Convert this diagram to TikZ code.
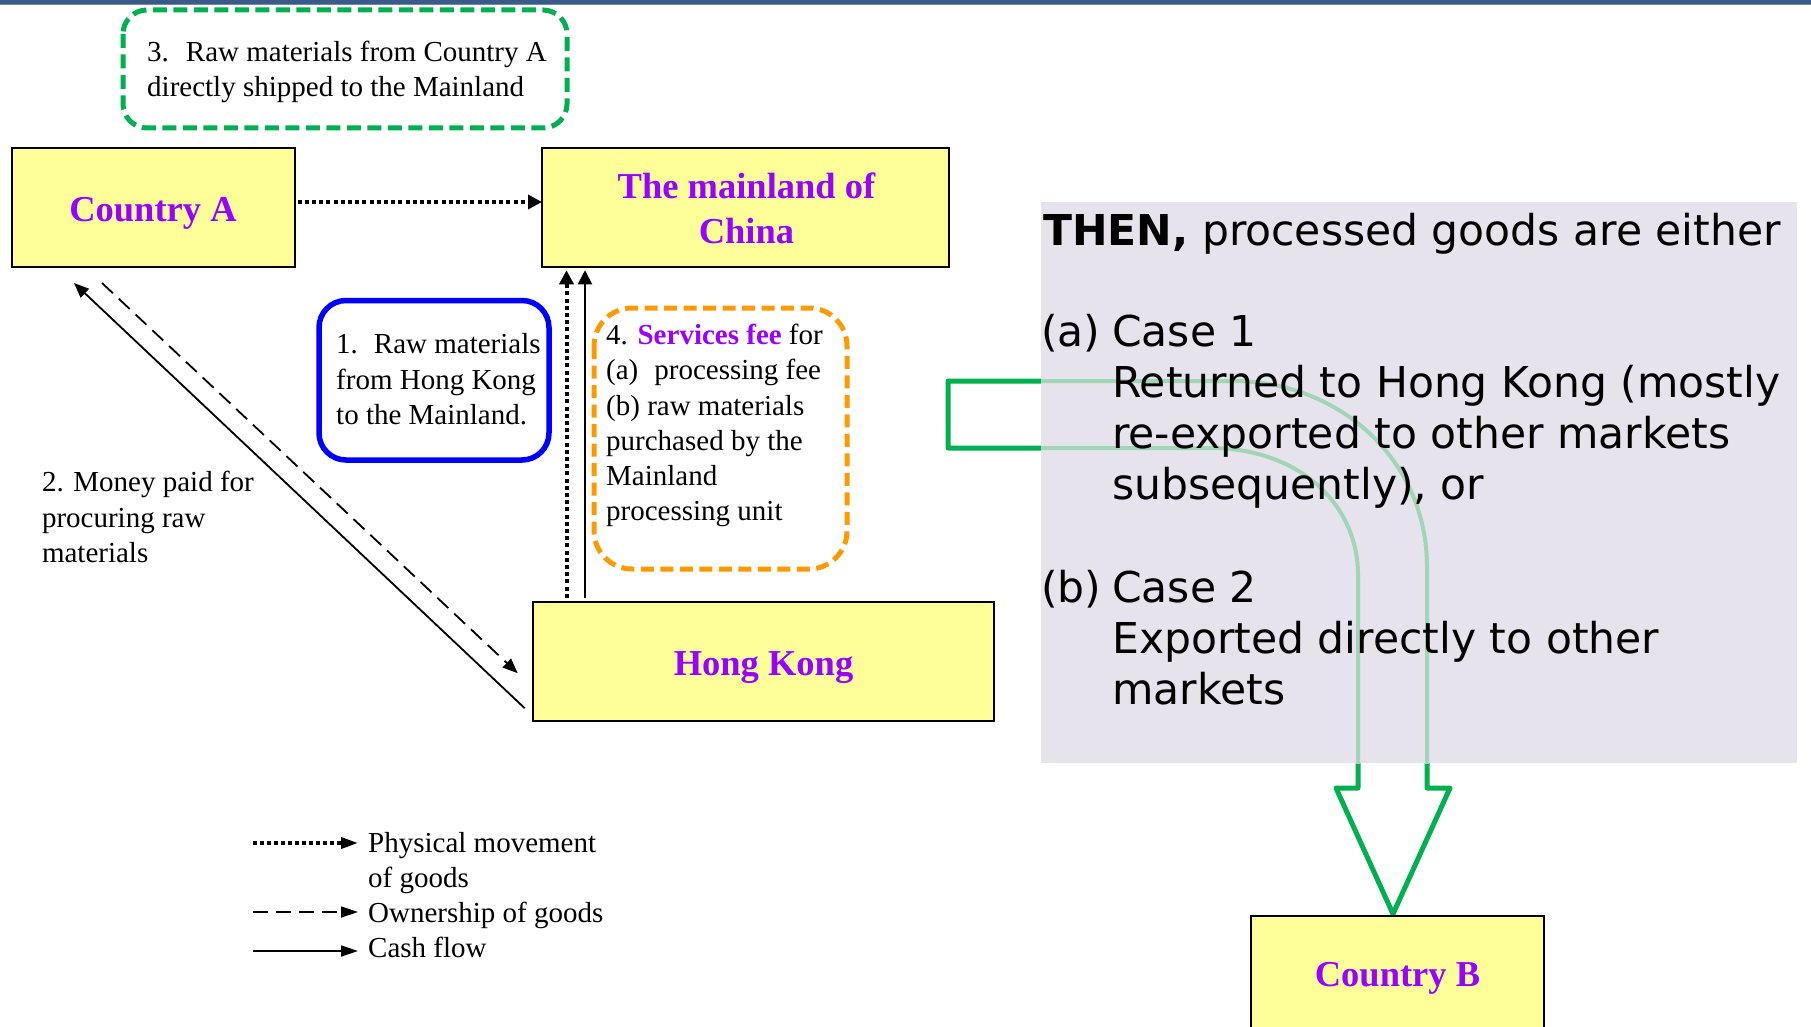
\documentclass[tikz,border=0pt]{standalone}
\usepackage{fontspec}
\setmainfont{Liberation Serif}
\newfontfamily\panelfont{DejaVu Sans}
\usetikzlibrary{arrows.meta}

\definecolor{boxyellow}{HTML}{FFFF99}
\definecolor{placepurple}{HTML}{9900FF}
\definecolor{notegreen}{HTML}{00B050}
\definecolor{ghostgreen}{RGB}{160,214,182}
\definecolor{noteblue}{HTML}{0000FF}
\definecolor{noteorange}{HTML}{FF9900}
\definecolor{barblue}{HTML}{3A5A88}
\definecolor{barlight}{HTML}{7088AE}
\definecolor{panelgrey}{RGB}{230,227,237}

\begin{document}
\begin{tikzpicture}[x=1pt, y=-1pt,
  place/.style={draw=black, line width=2pt, fill=boxyellow, inner sep=0pt, outer sep=0pt},
  placename/.style={font=\fontsize{36.5}{44.5}\selectfont\bfseries, text=placepurple, anchor=base, inner sep=0pt},
  note/.style={font=\fontsize{29}{35.5}\selectfont, anchor=base west, inner sep=0pt},
  panelline/.style={font=\panelfont\fontsize{42.5}{51}\selectfont, anchor=base west, inner sep=0pt},
  goods/.style={line width=4pt, dash pattern=on 4pt off 3.2pt},
  owner/.style={line width=1.8pt, dash pattern=on 15pt off 8pt},
  cash/.style={line width=1.8pt},
  headtip/.style={-{Triangle[length=14pt, width=14pt]}},
  keytip/.style={-{Triangle[length=17pt, width=11pt]}},
  bigarrow/.style={draw=notegreen, line width=5pt, line join=round},
]
\useasboundingbox (0,0) rectangle (1811,1027);

% title bar along the top edge
\fill[barblue] (0,0) rectangle (1811,4);
\fill[barlight] (0,4) rectangle (1811,5.5);

% outline of the block arrow: goods leaving the Mainland for Country B
\def\arrowoutline{(948,381) -- (1233,381)
  .. controls (1340,381) and (1427,460) .. (1427,567)
  -- (1427,788) -- (1450,788) -- (1393,914) -- (1336,788) -- (1358,788)
  -- (1358,575) .. controls (1358,505) and (1300,448) .. (1210,448)
  -- (948,448) -- cycle}
\draw[bigarrow] \arrowoutline;

% explanation panel laid over the arrow, which shows through faintly
\fill[panelgrey] (1041,202) rectangle (1797,763);
\begin{scope}
  \clip (1041,202) rectangle (1797,763);
  \draw[ghostgreen, line width=4pt, line join=round] \arrowoutline;
\end{scope}
\node[panelline] (then) at (1043,245) {\bfseries THEN,\mdseries{} processed goods are either};
\node[panelline] (casea) at (1041,346) {(a)};
\node[panelline] (caseat) at (1112,346) {Case 1};
\node[panelline] (caseal1) at (1112,397) {Returned to Hong Kong (mostly};
\node[panelline] (caseal2) at (1112,448) {re-exported to other markets};
\node[panelline] (caseal3) at (1112,499) {subsequently), or};
\node[panelline] (caseb) at (1041,602) {(b)};
\node[panelline] (casebt) at (1112,602) {Case 2};
\node[panelline] (casebl1) at (1112,653) {Exported directly to other};
\node[panelline] (casebl2) at (1112,704) {markets};

% places
\node[place, minimum width=283pt, minimum height=119pt] (ca) at (153,207.5) {};
\node[place, minimum width=407pt, minimum height=118.5pt] (ml) at (745.5,207.5) {};
\node[place, minimum width=461pt, minimum height=119pt] (hk) at (763.2,661.2) {};
\begin{scope}
  \clip (0,0) rectangle (1811,1027);
  \node[place, minimum width=293pt, minimum height=119pt] (cb) at (1397.5,975.5) {};
\end{scope}
\node[placename] (caname) at (153,221.7) {Country A};
\node[placename] (mlname1) at (746.5,199) {The mainland of};
\node[placename] (mlname2) at (746.5,243.5) {China};
\node[placename] (hkname) at (763.5,675) {Hong Kong};
\node[placename] (cbname) at (1397.5,986.7) {Country B};

% note 3
\draw[notegreen, line width=5pt, dash pattern=on 14pt off 6.5pt, rounded corners=24pt]
  (123,10) rectangle (567,128);
\node[note] (n3a) at (147,61.5) {3.\hspace{17pt}Raw materials from Country A};
\node[note] (n3b) at (147,97) {directly shipped to the Mainland};

% note 1
\draw[noteblue, line width=5.5pt, rounded corners=27pt] (319,300.5) rectangle (549,460);
\node[note] (n1a) at (336,353) {1.\hspace{16pt}Raw materials};
\node[note] (n1b) at (336,389) {from Hong Kong};
\node[note] (n1c) at (336,424) {to the Mainland.};

% note 4
\draw[noteorange, line width=5pt, dash pattern=on 13pt off 6.5pt, rounded corners=38pt]
  (594,308) rectangle (847,569);
\node[note] (n4a) at (606,344) {4. \textcolor{placepurple}{\bfseries Services fee} for};
\node[note] (n4b) at (606,379.5) {(a)\hspace{16pt}processing fee};
\node[note] (n4c) at (606,415) {(b) raw materials};
\node[note] (n4d) at (606,450.5) {purchased by the};
\node[note] (n4e) at (606,485.5) {Mainland};
\node[note] (n4f) at (606,520) {processing unit};

% note 2
\node[note] (n2a) at (41.8,491) {2. Money paid for};
\node[note] (n2b) at (41.8,527.5) {procuring raw};
\node[note] (n2c) at (41.8,562.5) {materials};

% flows between the places
\coordinate (vdot) at (566.5,0);
\coordinate (vcash) at (585,0);
\draw[goods, headtip] ([xshift=3pt,yshift=5.5pt]ca.east) -- ([yshift=5.5pt]ml.west);
\draw[goods, headtip, shorten <=4pt, shorten >=3.5pt] (hk.north -| vdot) -- (ml.south -| vdot);
\draw[cash, headtip, shorten <=3.5pt, shorten >=3.5pt] (hk.north -| vcash) -- (ml.south -| vcash);
\draw[cash, -{Triangle[length=15pt, width=12pt]}]
  ([xshift=-8pt,yshift=-47pt]hk.west) -- ([xshift=-79pt,yshift=-16pt]ca.south);
\draw[owner, -{Triangle[length=15pt, width=12pt]}]
  ([xshift=-51pt,yshift=-16pt]ca.south) -- ([xshift=-15pt,yshift=-12pt]hk.west);

% key
\coordinate (k1a) at (253,843);  \coordinate (k1b) at (358,843);
\coordinate (k2a) at (253,912);  \coordinate (k2b) at (358,912);
\coordinate (k3a) at (253,951);  \coordinate (k3b) at (358,951);
\draw[goods, line width=3.5pt, dash pattern=on 3.5pt off 3.5pt, keytip] (k1a) -- (k1b);
\draw[owner, keytip] (k2a) -- (k2b);
\draw[cash, keytip] (k3a) -- (k3b);
\node[note] (k1t) at (368,852) {Physical movement};
\node[note] (k1u) at (368,887.5) {of goods};
\node[note] (k2t) at (368,922) {Ownership of goods};
\node[note] (k3t) at (368,957) {Cash flow};
\end{tikzpicture}
\end{document}
